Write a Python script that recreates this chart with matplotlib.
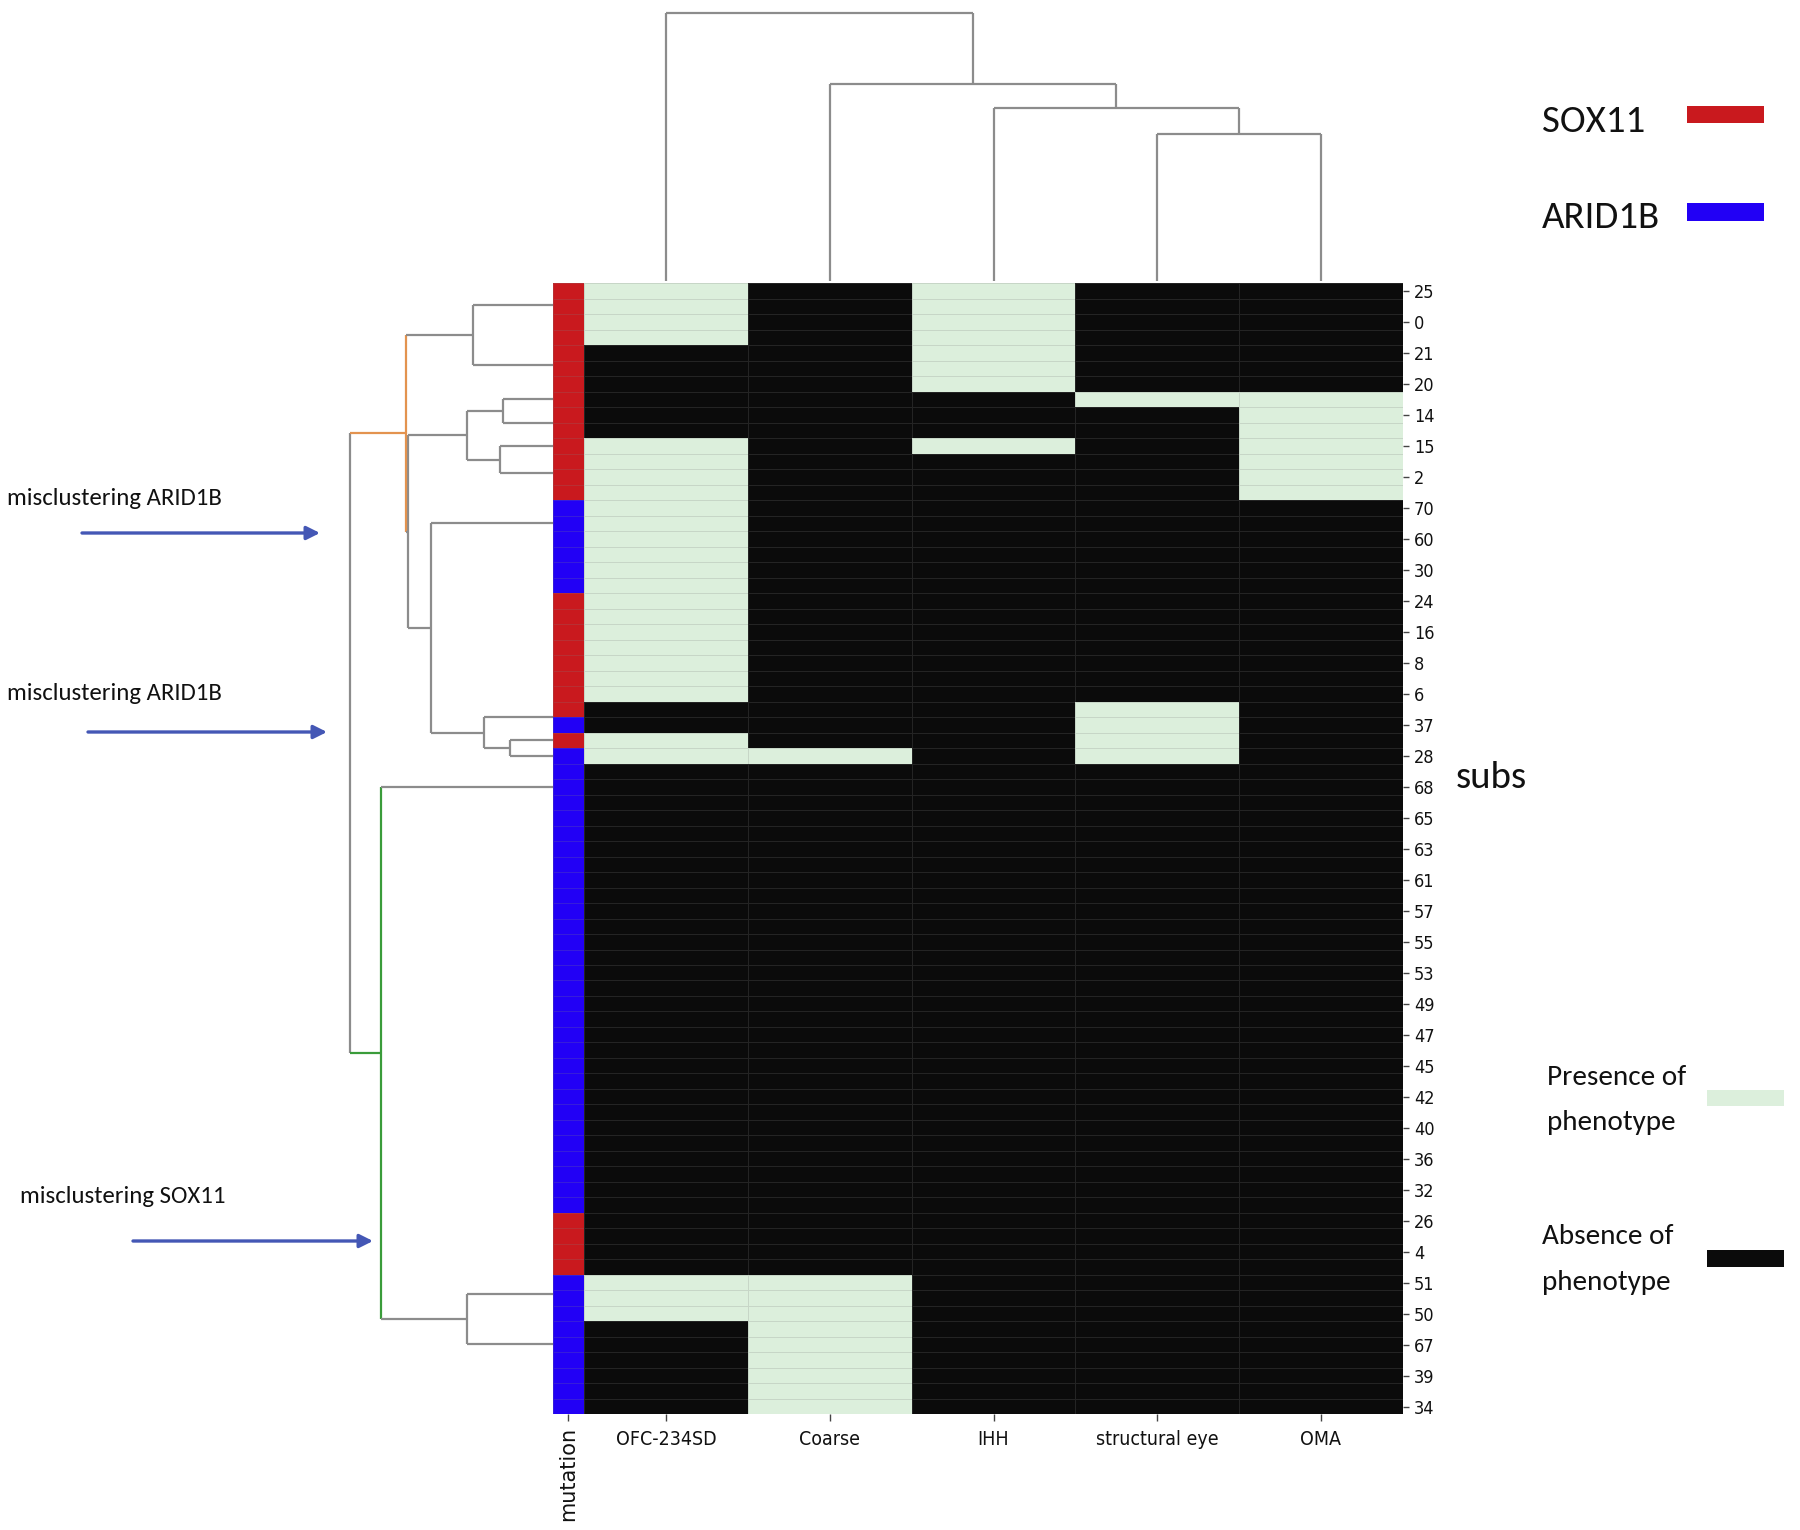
import matplotlib
matplotlib.use("Agg")
import matplotlib.pyplot as plt
from matplotlib import font_manager
from matplotlib.colors import ListedColormap
from matplotlib.patches import Rectangle, FancyArrowPatch
import numpy as np

W, H = 1800, 1530

phenotypes = ["OFC-234SD", "Coarse", "IHH", "structural eye", "OMA"]

# blocks of identical rows, top to bottom in clustered order
group_sizes = [4, 3, 1, 2, 1, 3, 13, 2, 1, 1, 33, 3, 6]
group_profiles = [
    [1, 0, 1, 0, 0],
    [0, 0, 1, 0, 0],
    [0, 0, 0, 1, 1],
    [0, 0, 0, 0, 1],
    [1, 0, 1, 0, 1],
    [1, 0, 0, 0, 1],
    [1, 0, 0, 0, 0],
    [0, 0, 0, 1, 0],
    [1, 0, 0, 1, 0],
    [1, 1, 0, 1, 0],
    [0, 0, 0, 0, 0],
    [1, 1, 0, 0, 0],
    [0, 1, 0, 0, 0],
]

# mutation strip, run lengths top to bottom
mutation_runs = ["SOX11", "ARID1B", "SOX11", "ARID1B", "SOX11", "ARID1B", "SOX11", "ARID1B"]
mutation_counts = [14, 6, 8, 1, 1, 30, 4, 9]

# every second row is labelled
subs_labels = [25, 0, 21, 20, 14, 15, 2, 70, 60, 30, 24, 16, 8, 6, 37, 28, 68, 65,
               63, 61, 57, 55, 53, 49, 47, 45, 42, 40, 36, 32, 26, 4, 51, 50, 67, 39, 34]

# row linkage between blocks (left id, right id, distance); new ids start at 13
row_linkage = [
    (0, 1, 1.57),
    (2, 3, 0.98),
    (4, 5, 1.04),
    (14, 15, 1.70),
    (8, 9, 0.84),
    (7, 17, 1.35),
    (6, 18, 2.41),
    (16, 19, 2.85),
    (13, 20, 2.90),
    (11, 12, 1.70),
    (10, 22, 3.39),
    (21, 23, 4.00),
]
row_link_colors = {21: "#e3934f", 23: "#3a9c3a"}

col_linkage = [(3, 4, 2.19), (2, 5, 2.59), (1, 6, 2.94), (0, 7, 4.00)]

RED = "#c9191e"
BLUE = "#2200f5"
LIGHT = "#dcefdc"
BLACK = "#0b0b0b"
GREY = "#8c8c8c"
ARROW = "#4457b5"

# fonts
ttf = font_manager.fontManager.ttflist
names = {f.name for f in ttf}
cond = [f.fname for f in ttf if f.name == "DejaVu Sans" and "Condensed" in f.fname
        and "Bold" not in f.fname and "Oblique" not in f.fname]
if cond:
    tick_fp = font_manager.FontProperties(fname=cond[0])
elif "Liberation Sans Narrow" in names:
    tick_fp = font_manager.FontProperties(family="Liberation Sans Narrow")
else:
    tick_fp = font_manager.FontProperties(family="DejaVu Sans")
if "Carlito" in names:
    note_font, fscale = "Carlito", 1.0
else:
    note_font, fscale = "Lato", 0.93


def box(x0, y0, x1, y1):
    return [x0 / W, 1 - y1 / H, (x1 - x0) / W, (y1 - y0) / H]


def tree_coords(leaf_pos, linkage):
    pos = list(leaf_pos)
    hgt = [0.0] * len(leaf_pos)
    for a, b, h in linkage:
        pos.append((pos[a] + pos[b]) / 2)
        hgt.append(h)
    return pos, hgt


def draw_tree(ax, leaf_pos, linkage, colors, orient):
    pos, hgt = tree_coords(leaf_pos, linkage)
    n = len(leaf_pos)
    for j, (a, b, h) in enumerate(linkage):
        k = n + j
        segs = [([h, h], [pos[a], pos[b]], colors.get(k, GREY)),
                ([h, hgt[a]], [pos[a], pos[a]], colors.get(a, GREY)),
                ([h, hgt[b]], [pos[b], pos[b]], colors.get(b, GREY))]
        for hs, ps, c in segs:
            if orient == "left":
                ax.plot(hs, ps, color=c, lw=1.6, solid_capstyle="butt")
            else:
                ax.plot(ps, hs, color=c, lw=1.6, solid_capstyle="butt")


data = np.repeat(np.array(group_profiles), group_sizes, axis=0)
n_rows = data.shape[0]
mut = np.repeat([0 if m == "SOX11" else 1 for m in mutation_runs], mutation_counts)

fig = plt.figure(figsize=(W / 100, H / 100), dpi=100)
fig.patch.set_facecolor("white")

edge = (0.5, 0.5, 0.5, 0.22)

# heatmap
ax = fig.add_axes(box(584.2, 283.3, 1402.8, 1414.3))
ax.pcolormesh(data, cmap=ListedColormap([BLACK, LIGHT]), vmin=0, vmax=1,
              edgecolors=edge, linewidth=0.6)
ax.set_xlim(0, len(phenotypes))
ax.set_ylim(n_rows, 0)
ax.yaxis.tick_right()
ax.set_yticks(np.arange(0, n_rows, 2) + 0.5)
ax.set_yticklabels([str(s) for s in subs_labels])
ax.set_xticks(np.arange(len(phenotypes)) + 0.5)
ax.set_xticklabels(phenotypes)
ax.tick_params(axis="y", length=4, width=1, color="#444444", pad=4)
ax.tick_params(axis="x", length=5, width=1, color="#444444", pad=6)
for lab in ax.get_yticklabels():
    lab.set_fontproperties(tick_fp)
    lab.set_fontsize(13)
    lab.set_color("#111111")
for lab in ax.get_xticklabels():
    lab.set_fontproperties(tick_fp)
    lab.set_fontsize(14)
    lab.set_color("#111111")
for s in ax.spines.values():
    s.set_visible(False)

# mutation strip
axs = fig.add_axes(box(552.6, 283.3, 584.2, 1414.3))
axs.pcolormesh(mut.reshape(-1, 1), cmap=ListedColormap([RED, BLUE]), vmin=0, vmax=1,
               edgecolors=edge, linewidth=0.6)
axs.set_xlim(0, 1)
axs.set_ylim(n_rows, 0)
axs.set_yticks([])
axs.set_xticks([0.5])
axs.set_xticklabels(["mutation"], rotation=90, fontsize=15, color="#111111")
axs.tick_params(axis="x", length=5, width=1, color="#444444", pad=4)
for s in axs.spines.values():
    s.set_visible(False)

# row dendrogram (blocks of identical rows merge as right chains at zero distance)
starts = np.cumsum([0] + group_sizes[:-1])
leaf_pos = []
for s0, n in zip(starts, group_sizes):
    p = s0 + n - 1 + 0.5
    for i in range(n - 2, -1, -1):
        p = (s0 + i + 0.5 + p) / 2
    leaf_pos.append(p)
axr = fig.add_axes(box(340, 283.3, 552.6, 1414.3))
draw_tree(axr, leaf_pos, row_linkage, row_link_colors, "left")
axr.set_xlim(4.0 * 1.05, 0)
axr.set_ylim(n_rows, 0)
axr.axis("off")

# column dendrogram
axc = fig.add_axes(box(584.2, 0, 1402.8, 281))
draw_tree(axc, list(np.arange(len(phenotypes)) + 0.5), col_linkage, {}, "top")
axc.set_xlim(0, len(phenotypes))
axc.set_ylim(0, 4.0 * 1.05)
axc.axis("off")

# axis title drawn to the side
fig.text(1456 / W, 1 - 788 / H, "subs", fontsize=28 * fscale, family=note_font,
         ha="left", va="baseline", color="#111111")

# misclustering call-outs
notes = [("misclustering ARID1B", 7, 505, 82, 320, 533),
         ("misclustering ARID1B", 7, 700, 88, 327, 732),
         ("misclustering SOX11", 20, 1203, 133, 373, 1241)]
for txt, tx, ty, ax0, ax1, ay in notes:
    fig.text(tx / W, 1 - ty / H, txt, fontsize=17.8 * fscale, family=note_font,
             ha="left", va="baseline", color="#111111")
    arr = FancyArrowPatch((ax0 / W, 1 - ay / H), (ax1 / W, 1 - ay / H),
                          transform=fig.transFigure, arrowstyle="-|>",
                          mutation_scale=20, lw=2.4, color=ARROW,
                          shrinkA=0, shrinkB=0)
    fig.add_artist(arr)

# mutation legend
for txt, ty, col, by0, by1 in [("SOX11", 132, RED, 106, 123),
                               ("ARID1B", 228, BLUE, 203, 221)]:
    fig.text(1542 / W, 1 - ty / H, txt, fontsize=28 * fscale, family=note_font,
             ha="left", va="baseline", color="#111111")
    fig.add_artist(Rectangle((1687 / W, 1 - by1 / H), 77 / W, (by1 - by0) / H,
                             transform=fig.transFigure, color=col, lw=0))

# phenotype legend
for l1, l2, tx, ty1, ty2, col, by0, by1 in [
        ("Presence of", "phenotype", 1547, 1085, 1130, LIGHT, 1090, 1106),
        ("Absence of", "phenotype", 1542, 1244, 1290, BLACK, 1250, 1267)]:
    fig.text(tx / W, 1 - ty1 / H, l1, fontsize=21 * fscale, family=note_font,
             ha="left", va="baseline", color="#111111")
    fig.text(tx / W, 1 - ty2 / H, l2, fontsize=21 * fscale, family=note_font,
             ha="left", va="baseline", color="#111111")
    fig.add_artist(Rectangle((1707 / W, 1 - by1 / H), 77 / W, (by1 - by0) / H,
                             transform=fig.transFigure, color=col, lw=0))

fig.savefig("out.png", dpi=100, facecolor="white")
